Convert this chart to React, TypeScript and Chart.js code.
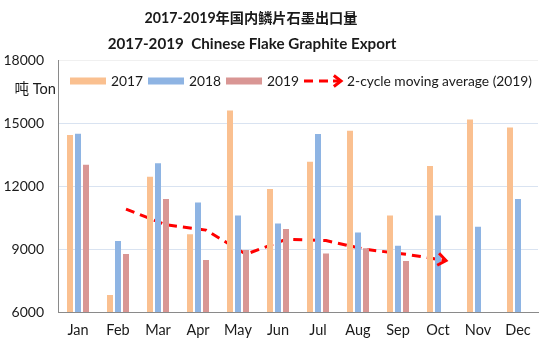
import React, { useEffect, useRef } from "react";
import { Chart, registerables } from "chart.js";

Chart.register(...registerables);

const months = ["Jan", "Feb", "Mar", "Apr", "May", "Jun", "Jul", "Aug", "Sep", "Oct", "Nov", "Dec"];
const exports2017 = [14430, 6810, 12440, 9700, 15600, 11860, 13160, 14630, 10590, 12950, 15170, 14790];
const exports2018 = [14490, 9380, 13080, 11220, 10590, 10220, 14480, 9780, 9160, 10590, 10060, 11380];
const exports2019 = [13010, 8760, 11380, 8480, 8950, 9950, 8790, 9030, 8430, null, null, null];
const movingAvg2019 = [null, 10900, 10150, 9900, 8750, 9460, 9400, 8980, 8750, 8450, null, null];
const yMin = 6000;
const yMax = 18000;
const yStep = 3000;

const titleCn = "2017-2019年国内鳞片石墨出口量";
const titleEn = "2017-2019  Chinese Flake Graphite Export";
const unitLabel = "吨 Ton";
const seriesLabels = ["2017", "2018", "2019", "2-cycle moving average (2019)"];

const FONT = "Lato, 'Noto Sans CJK SC', sans-serif";
const C2017 = "#FAC090";
const C2018 = "#8EB4E3";
const C2019 = "#D99694";
const CLINE = "#FF0000";
const TEXT = "#1a1a1a";

function drawChevron(ctx: CanvasRenderingContext2D, x: number, y: number, ang: number, len: number) {
  const th = 0.65;
  ctx.beginPath();
  ctx.moveTo(x - len * Math.cos(ang - th), y - len * Math.sin(ang - th));
  ctx.lineTo(x, y);
  ctx.lineTo(x - len * Math.cos(ang + th), y - len * Math.sin(ang + th));
  ctx.stroke();
}

const decor = {
  id: "decor",
  afterDatasetsUpdate(chart: any) {
    // place each moving-average point over the 2019 bar slot of its month
    const barMeta = chart.getDatasetMeta(2);
    const lineMeta = chart.getDatasetMeta(3);
    lineMeta.data.forEach((p: any, i: number) => {
      const b = barMeta.data[i];
      if (b && isFinite(b.x)) p.x = b.x;
    });
    if (lineMeta.dataset) lineMeta.dataset._path = undefined;
  },
  afterDatasetsDraw(chart: any) {
    const ctx: CanvasRenderingContext2D = chart.ctx;
    const meta = chart.getDatasetMeta(3);
    const pts = meta.data.filter((p: any) => !p.skip && isFinite(p.y));
    if (pts.length >= 2) {
      const a = pts[pts.length - 2];
      const b = pts[pts.length - 1];
      const ang = Math.atan2(b.y - a.y, b.x - a.x);
      ctx.save();
      ctx.strokeStyle = CLINE;
      ctx.lineWidth = 3;
      ctx.setLineDash([]);
      ctx.lineJoin = "miter";
      drawChevron(ctx, b.x, b.y, ang, 10);
      ctx.restore();
    }
  },
  afterDraw(chart: any) {
    const ctx: CanvasRenderingContext2D = chart.ctx;
    ctx.save();
    ctx.fillStyle = TEXT;
    ctx.textAlign = "center";
    ctx.textBaseline = "middle";
    ctx.font = `bold 14.2px ${FONT}`;
    ctx.fillText(titleCn, 251, 18);
    ctx.font = `bold 15.2px ${FONT}`;
    ctx.fillText(titleEn, 252, 44);
    ctx.font = `14.6px ${FONT}`;
    ctx.textAlign = "right";
    ctx.fillText(unitLabel, 56, 89);
    ctx.font = `13.8px ${FONT}`;
    ctx.textAlign = "left";
    const ly = 81;
    let x = 70;
    const colors = [C2017, C2018, C2019];
    for (let i = 0; i < 3; i++) {
      ctx.fillStyle = colors[i];
      ctx.fillRect(x, ly - 3.5, 36, 7);
      x += 41;
      ctx.fillStyle = TEXT;
      ctx.fillText(seriesLabels[i], x, ly + 1);
      x += ctx.measureText(seriesLabels[i]).width + 5;
    }
    x = 304;
    ctx.strokeStyle = CLINE;
    ctx.lineWidth = 3;
    ctx.beginPath();
    ctx.moveTo(x, ly);
    ctx.lineTo(x + 9, ly);
    ctx.moveTo(x + 15, ly);
    ctx.lineTo(x + 24, ly);
    ctx.moveTo(x + 29, ly);
    ctx.lineTo(x + 37, ly);
    ctx.stroke();
    drawChevron(ctx, x + 37, ly, 0, 9);
    ctx.fillStyle = TEXT;
    ctx.fillText(seriesLabels[3], 347, ly + 1);
    ctx.restore();
  },
};

export default function App() {
  const ref = useRef<HTMLCanvasElement | null>(null);
  useEffect(() => {
    if (!ref.current) return;
    const barOpts = { categoryPercentage: 0.6, barPercentage: 0.75 };
    const chart = new Chart(ref.current, {
      type: "bar",
      data: {
        labels: months,
        datasets: [
          { label: seriesLabels[0], data: exports2017, backgroundColor: C2017, ...barOpts },
          { label: seriesLabels[1], data: exports2018, backgroundColor: C2018, ...barOpts },
          { label: seriesLabels[2], data: exports2019, backgroundColor: C2019, ...barOpts },
          {
            type: "line",
            label: seriesLabels[3],
            data: movingAvg2019,
            borderColor: CLINE,
            borderWidth: 3,
            borderDash: [9, 6],
            pointRadius: 0,
            tension: 0,
            fill: false,
            spanGaps: false,
          } as any,
        ],
      },
      plugins: [decor],
      options: {
        responsive: false,
        animation: false,
        layout: { padding: { top: 60, left: 0, right: 18, bottom: 0 } },
        plugins: {
          legend: { display: false },
          title: { display: false },
          tooltip: { enabled: false },
        },
        scales: {
          x: {
            type: "category",
            offset: true,
            grid: { display: false, drawTicks: false },
            border: { display: true, color: "#8a8a8a", width: 1 },
            ticks: { color: TEXT, font: { family: FONT, size: 14.5 }, padding: 10, maxRotation: 0 },
            afterFit: (s: any) => { s.height = 42; },
          },
          y: {
            min: yMin,
            max: yMax,
            ticks: {
              stepSize: yStep,
              color: TEXT,
              font: { family: FONT, size: 14 },
              padding: 14,
              callback: (v: any) => String(v),
            },
            grid: {
              drawTicks: false,
              color: (c: any) => (c.tick && c.tick.value === yMax ? "#F0F0F0" : c.tick && c.tick.value === yMin ? "#8a8a8a" : "#D9E3F1"),
              lineWidth: 1,
            },
            border: { display: true, color: "#8a8a8a", width: 1 },
            afterFit: (s: any) => { s.width = 58; },
          },
        },
      } as any,
    });
    return () => chart.destroy();
  }, []);
  return (
    <div style={{ position: "fixed", left: 0, top: 0, width: 556, height: 354, background: "#fff" }}>
      <canvas ref={ref} width={556} height={354} style={{ display: "block" }} />
    </div>
  );
}
